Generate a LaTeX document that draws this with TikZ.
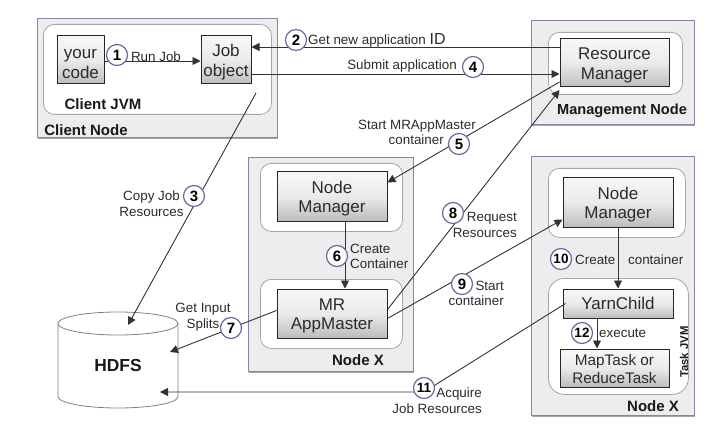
\documentclass[tikz,border=0pt]{standalone}
\usepackage{fontspec}
\setmainfont{Liberation Sans}
\usetikzlibrary{arrows.meta,calc,shadows}
\definecolor{nodeedge}{HTML}{8585AD}
\definecolor{nodefill}{HTML}{EDEDEE}
\definecolor{ringedge}{HTML}{6E6A9E}
\definecolor{inkgray}{HTML}{2B2B2B}
\newcommand{\boxstrut}{\rule{0pt}{17pt}}
\begin{document}
\begin{tikzpicture}[x=1pt,y=-1pt,
  hostbox/.style={draw=nodeedge, fill=nodefill, line width=1pt, anchor=north west, drop shadow={shadow xshift=0pt, shadow yshift=-1.2pt, opacity=.35, fill=black}},
  jvmbox/.style={draw=black!35, fill=white, line width=.8pt, rounded corners=11pt, anchor=north west},
  comp/.style={draw=black!85, line width=1pt, top color=black!3, bottom color=black!26, middle color=black!8, align=center, text=inkgray, font=\fontsize{17}{19.5}\selectfont, inner sep=0pt},
  hostlabel/.style={font=\bfseries\fontsize{15}{17}\selectfont, text=black!90, yshift=-1pt},
  lbl/.style={align=center, text=inkgray, font=\fontsize{13.4}{15.5}\selectfont, inner sep=0pt, yshift=-1pt},
  ring/.style={circle, draw=ringedge, fill=white, line width=1.2pt, minimum size=21pt, inner sep=0pt, font=\bfseries\fontsize{15}{15}\selectfont},
  flow/.style={-{Triangle[length=8pt,width=8pt]}, line width=.9pt, draw=black!80}]
% hosts
\node[hostbox, minimum width=240pt, minimum height=119pt] (client) at (37,18) {};
\node[jvmbox, minimum width=228pt, minimum height=90pt] (clientjvm) at (43,24) {};
\node[hostbox, minimum width=163pt, minimum height=104pt] (mgmt) at (531,20) {};
\node[jvmbox, minimum width=134pt, minimum height=62pt] (rmjvm) at (548,32) {};
\node[hostbox, minimum width=165pt, minimum height=214pt] (nodea) at (248,157) {};
\node[jvmbox, minimum width=142pt, minimum height=68pt] (nmajvm) at (260,163) {};
\node[jvmbox, minimum width=142pt, minimum height=69pt] (mrjvm) at (260,279) {};
\node[hostbox, minimum width=163pt, minimum height=259pt] (nodeb) at (531,156) {};
\node[jvmbox, minimum width=137pt, minimum height=69pt] (nmbjvm) at (548,168) {};
\node[jvmbox, minimum width=140pt, minimum height=116pt, rounded corners=16pt] (taskjvm) at (548,278) {};
% components
\node[comp, minimum width=47pt, minimum height=48pt] (code) at (80.5,60) {\boxstrut your\\code};
\node[comp, minimum width=50pt, minimum height=48pt] (job) at (226,60) {\boxstrut Job\\object};
\node[comp, minimum width=109pt, minimum height=48pt] (rm) at (614.5,63) {\boxstrut Resource\\Manager};
\node[comp, minimum width=110pt, minimum height=49pt] (nma) at (332,196.5) {\boxstrut Node\\Manager};
\node[comp, minimum width=110pt, minimum height=49pt] (mr) at (332,313.5) {\boxstrut MR\\AppMaster};
\node[comp, minimum width=110pt, minimum height=49pt] (nmb) at (618,202.5) {\boxstrut Node\\Manager};
\node[comp, minimum width=110pt, minimum height=29pt] (yarn) at (618,303.5) {YarnChild};
\node[comp, minimum width=109pt, minimum height=38pt, font=\fontsize{15.3}{17.5}\selectfont] (task) at (614.5,368) {\rule{0pt}{13pt}MapTask or\\ReduceTask};
% hdfs drum
\draw[draw=black!50, line width=.8pt, fill=white] (58,323.5) arc[start angle=180, end angle=0, x radius=60pt, y radius=11.5pt] -- (178,396.5) arc[start angle=0, end angle=-180, x radius=60pt, y radius=11.5pt] -- cycle;
\draw[draw=black!50, line width=.8pt] (58,323.5) arc[start angle=180, end angle=360, x radius=60pt, y radius=11.5pt];
\node[font=\bfseries\fontsize{17.4}{20}\selectfont, text=black!90] (hdfs) at (118,366) {HDFS};
% host and jvm names
\node[hostlabel] (clientname) at (86,129) {Client Node};
\node[hostlabel] (jvmname) at (103,103) {Client JVM};
\node[hostlabel, font=\bfseries\fontsize{14.6}{17}\selectfont] (mgmtname) at (622,110) {Management Node};
\node[hostlabel] (nodeaname) at (358,359) {Node X};
\node[hostlabel] (nodebname) at (653,405) {Node X};
\node[hostlabel, font=\bfseries\fontsize{11.3}{13}\selectfont, rotate=90] (taskname) at (684,351) {Task JVM};
% free ends
\coordinate (jobout) at (256,93);
\coordinate (hdfstop) at (128,325);
\coordinate (hdfsside) at (170,352);
\coordinate (hdfslow) at (160,392);
\coordinate (bend) at (424,392);
% connectors
\draw[flow] ($(code.east)+(0,1)$) -- ($(job.west)+(0,1)$);
\draw[flow] ($(rm.west)+(0,-16)$) -- ($(job.east)+(0,-13)$);
\draw[flow] ($(job.east)+(0,14)$) -- ($(rm.west)+(0,11)$);
\draw[flow] (jobout) -- (hdfstop);
\draw[flow] ($(rm.west)+(0,19)$) -- ($(nma.east)+(0,-14)$);
\draw[flow] (nma.south -| 345,0) -- (mr.north -| 345,0);
\draw[flow] ($(mr.west)+(0,-3)$) -- (hdfsside);
\draw[flow] ($(mr.east)+(0,-4)$) -- ($(rm.west)+(0,27)$);
\draw[flow] ($(mr.east)+(0,5)$) -- ($(nmb.west)+(0,17)$);
\draw[flow] (nmb.south) -- (yarn.north);
\draw[flow] ($(yarn.west)+(3,0)$) -- (bend) -- (hdfslow);
\draw[flow] (yarn.south -| 597,0) -- (task.north -| 597,0);
% numbers
\node[ring] (n1) at (117,55) {1};
\node[ring] (n2) at (296,40) {2};
\node[ring] (n3) at (194,196) {3};
\node[ring] (n4) at (473,67) {4};
\node[ring] (n5) at (459,144) {5};
\node[ring] (n6) at (337,256) {6};
\node[ring] (n7) at (231,328) {7};
\node[ring] (n8) at (453,213) {8};
\node[ring] (n9) at (462,284) {9};
\node[ring, font=\bfseries\fontsize{13.5}{13.5}\selectfont] (n10) at (561,259) {10};
\node[ring, font=\bfseries\fontsize{13.5}{13.5}\selectfont] (n11) at (424,388) {11};
\node[ring, font=\bfseries\fontsize{13.5}{13.5}\selectfont] (n12) at (582,333) {12};
% labels
\node[lbl] (runjob) at (156,56) {Run Job};
\node[lbl, anchor=west] (getid) at (308,39.5) {Get new application {\fontsize{16}{16}\selectfont ID}};
\node[lbl] (submit) at (402,65) {Submit application};
\node[lbl] (copyjob) at (151.5,202.5) {Copy Job\\Resources};
\node[lbl, align=right, anchor=east] (startam) at (476,131.5) {Start MRAppMaster\\container\hspace*{32pt}};
\node[lbl, align=left, anchor=west] (createa) at (350,255.5) {Create\\Container};
\node[lbl] (splits) at (203,316) {Get Input\\Splits};
\node[lbl, align=right, anchor=east] (reqres) at (517,224) {Request\\Resources};
\node[lbl, align=right, anchor=east] (startc) at (504,292.5) {Start\\container};
\node[lbl, anchor=west] (createb) at (575,259) {Create\hspace{9pt} container};
\node[lbl, anchor=west] (exec) at (599,332) {execute};
\node[lbl, align=right, anchor=east] (acquire) at (482,399.5) {Acquire\\Job Resources};
\useasboundingbox (0,0) rectangle (726,433);
\end{tikzpicture}
\end{document}
